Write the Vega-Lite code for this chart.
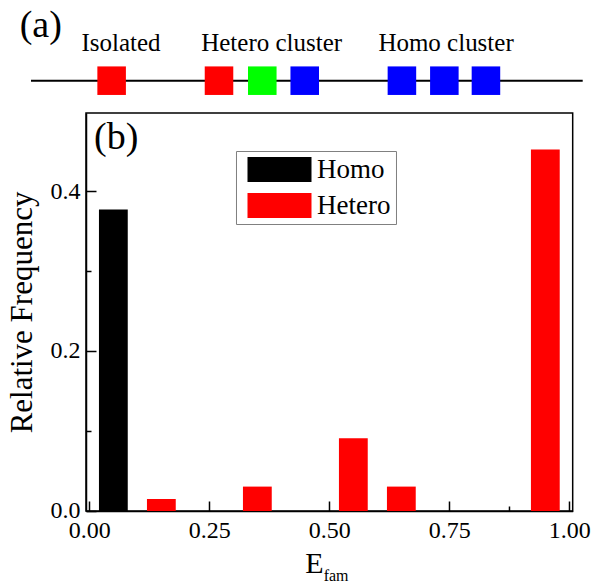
{
  "$schema": "https://vega.github.io/schema/vega-lite/v6.json",
  "padding": {"left": 6, "top": 0, "right": 0, "bottom": 0},
  "spacing": 0,
  "bounds": "flush",
  "background": "white",
  "config": {
    "font": "Liberation Serif",
    "view": {"stroke": "black", "strokeWidth": 1.5},
    "axis": {"labelFont": "Liberation Serif", "titleFont": "Liberation Serif"},
    "legend": {"labelFont": "Liberation Serif", "titleFont": "Liberation Serif"},
    "text": {"font": "Liberation Serif"}
  },
  "datasets": {
    "strand": [{"start": 0, "end": 13}],
    "sites": [
      {"pos": 1.9, "species": "A"},
      {"pos": 4.43, "species": "A"},
      {"pos": 5.45, "species": "B"},
      {"pos": 6.45, "species": "C"},
      {"pos": 8.74, "species": "C"},
      {"pos": 9.74, "species": "C"},
      {"pos": 10.72, "species": "C"}
    ],
    "groups": [
      {"pos": 2.12, "label": "Isolated"},
      {"pos": 5.67, "label": "Hetero cluster"},
      {"pos": 9.78, "label": "Homo cluster"}
    ],
    "hist": [
      {"lo": 0.02, "hi": 0.08, "freq": 0.377, "type": "Homo"},
      {"lo": 0.12, "hi": 0.18, "freq": 0.015, "type": "Hetero"},
      {"lo": 0.32, "hi": 0.38, "freq": 0.0305, "type": "Hetero"},
      {"lo": 0.52, "hi": 0.58, "freq": 0.091, "type": "Hetero"},
      {"lo": 0.62, "hi": 0.68, "freq": 0.0305, "type": "Hetero"},
      {"lo": 0.92, "hi": 0.98, "freq": 0.452, "type": "Hetero"}
    ]
  },
  "resolve": {
    "scale": {"x": "independent", "y": "independent", "color": "independent"},
    "axis": {"x": "independent", "y": "independent"},
    "legend": {"color": "independent"}
  },
  "vconcat": [
    {
      "width": 486.7,
      "height": 113,
      "view": {"stroke": null},
      "layer": [
        {
          "data": {"name": "strand"},
          "mark": {"type": "rule", "color": "black", "strokeWidth": 2},
          "encoding": {
            "x": {"field": "start", "type": "quantitative", "scale": {"domain": [1.296, 12.764], "nice": false, "zero": false}, "axis": null},
            "x2": {"field": "end"},
            "y": {"datum": 0.286, "type": "quantitative", "scale": {"domain": [0, 1], "nice": false, "zero": false}, "axis": null}
          }
        },
        {
          "data": {"name": "sites"},
          "mark": {"type": "point", "shape": "square", "filled": true, "size": 815, "opacity": 1},
          "encoding": {
            "x": {"field": "pos", "type": "quantitative"},
            "y": {"datum": 0.286, "type": "quantitative"},
            "color": {"field": "species", "type": "nominal", "scale": {"domain": ["A", "B", "C"], "range": ["#ff0000", "#00ff00", "#0000ff"]}, "legend": null}
          }
        },
        {
          "data": {"name": "groups"},
          "mark": {"type": "text", "fontSize": 25, "font": "Liberation Serif", "align": "center", "baseline": "middle", "color": "black"},
          "encoding": {
            "x": {"field": "pos", "type": "quantitative"},
            "y": {"datum": 0.62, "type": "quantitative"},
            "text": {"field": "label"}
          }
        },
        {
          "data": {"values": [{"panel": "(a)"}]},
          "mark": {"type": "text", "fontSize": 38, "font": "Liberation Serif", "align": "center", "baseline": "middle", "color": "black"},
          "encoding": {
            "x": {"datum": 0.23, "type": "quantitative"},
            "y": {"datum": 0.77, "type": "quantitative"},
            "text": {"field": "panel"}
          }
        }
      ]
    },
    {
      "width": 486.7,
      "height": 398,
      "layer": [
        {
          "data": {"name": "hist"},
          "mark": {"type": "bar"},
          "encoding": {
            "x": {
              "field": "lo", "type": "quantitative",
              "scale": {"domain": [-0.007, 1.007], "nice": false, "zero": false},
              "axis": {
                "title": "E",
                "values": [0, 0.125, 0.25, 0.375, 0.5, 0.625, 0.75, 0.875, 1],
                "labelExpr": "abs(datum.value*4 - round(datum.value*4)) < 1e-6 ? format(datum.value, '.2f') : ''",
                "tickSize": {"condition": {"test": "abs(datum.value*4 - round(datum.value*4)) < 1e-6", "value": -10}, "value": -5},
                "tickColor": "black", "tickWidth": 1.5,
                "domainColor": "black", "domainWidth": 1.5,
                "grid": false,
                "labelFlush": false, "labelOverlap": false,
                "labelFont": "Liberation Serif",
                "labelFontSize": 24, "labelColor": "black", "labelPadding": 18,
                "titleFont": "Liberation Serif",
                "titleFontSize": 30, "titleFontWeight": "normal", "titleColor": "black",
                "titleX": 228, "titleY": 62, "titleBaseline": "alphabetic"
              }
            },
            "x2": {"field": "hi"},
            "y": {
              "field": "freq", "type": "quantitative",
              "scale": {"domain": [0, 0.4975], "nice": false},
              "axis": {
                "title": "Relative Frequency",
                "values": [0, 0.1, 0.2, 0.3, 0.4],
                "labelExpr": "abs(datum.value*5 - round(datum.value*5)) < 1e-6 ? format(datum.value, '.1f') : ''",
                "tickSize": {"condition": {"test": "abs(datum.value*5 - round(datum.value*5)) < 1e-6", "value": -10}, "value": -5},
                "tickColor": "black", "tickWidth": 1.5,
                "domainColor": "black", "domainWidth": 1.5,
                "grid": false,
                "labelFlush": false, "labelOverlap": false,
                "labelFont": "Liberation Serif",
                "labelFontSize": 24, "labelColor": "black", "labelPadding": 16,
                "titleFont": "Liberation Serif",
                "titleFontSize": 31, "titleFontWeight": "normal", "titleColor": "black",
                "titlePadding": 11
              }
            },
            "y2": {"datum": 0},
            "color": {
              "field": "type", "type": "nominal",
              "scale": {"domain": ["Homo", "Hetero"], "range": ["#000000", "#ff0000"]},
              "legend": {
                "title": null, "orient": "none", "legendX": 150, "legendY": 38,
                "direction": "vertical",
                "symbolType": "M-4,-1.56H4V1.56H-4Z", "symbolSize": 256,
                "symbolStrokeWidth": 0, "symbolOpacity": 1, "symbolOffset": 25,
                "labelFont": "Liberation Serif",
                "labelFontSize": 27, "labelColor": "black",
                "labelOffset": 24, "rowPadding": 8, "padding": 5,
                "strokeColor": "#808080", "fillColor": "white"
              }
            }
          }
        },
        {
          "data": {"values": [{"panel": "(b)"}]},
          "mark": {"type": "text", "fontSize": 38, "font": "Liberation Serif", "align": "left", "baseline": "middle", "color": "black"},
          "encoding": {
            "x": {"datum": 0.0098, "type": "quantitative"},
            "y": {"datum": 0.466, "type": "quantitative"},
            "text": {"field": "panel"}
          }
        },
        {
          "data": {"values": [{"sub": "fam"}]},
          "mark": {"type": "text", "fontSize": 16, "font": "Liberation Serif", "align": "center", "baseline": "middle", "color": "black"},
          "encoding": {
            "x": {"datum": 0.514, "type": "quantitative"},
            "y": {"datum": -0.081, "type": "quantitative"},
            "text": {"field": "sub"}
          }
        }
      ]
    }
  ]
}
